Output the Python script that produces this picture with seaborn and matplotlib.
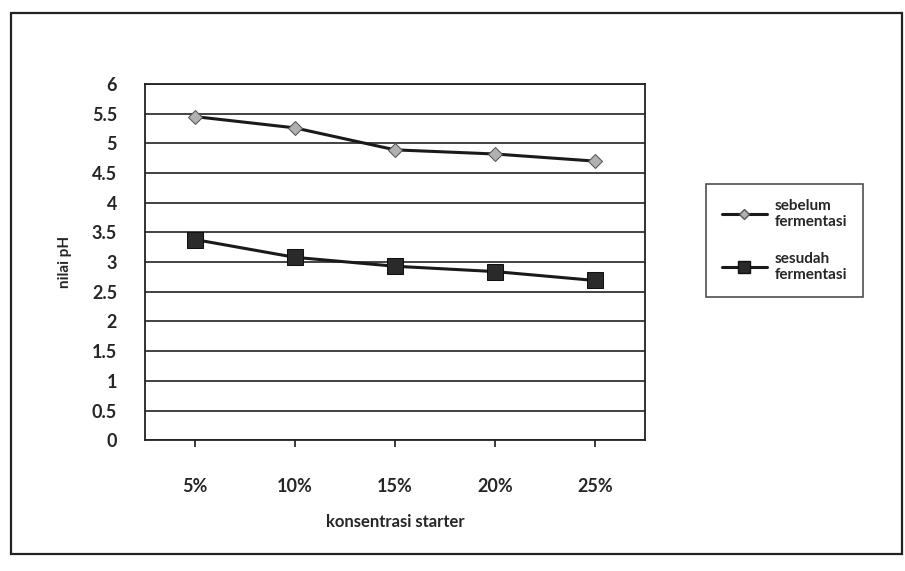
import matplotlib
matplotlib.use("Agg")
import matplotlib.pyplot as plt
import pandas as pd
import seaborn as sns
from matplotlib.lines import Line2D
from matplotlib.patches import Rectangle

sns.set_theme(style="white")
plt.rcParams["font.family"] = ["Lato", "DejaVu Sans"]

categories = ["5%", "10%", "15%", "20%", "25%"]
sebelum = [5.45, 5.26, 4.89, 4.82, 4.70]
sesudah = [3.38, 3.08, 2.93, 2.84, 2.69]
series_names = ["sebelum\nfermentasi", "sesudah\nfermentasi"]
y_ticks = [0, 0.5, 1, 1.5, 2, 2.5, 3, 3.5, 4, 4.5, 5, 5.5, 6]
y_tick_labels = ["0", "0.5", "1", "1.5", "2", "2.5", "3", "3.5", "4", "4.5", "5", "5.5", "6"]

df = pd.DataFrame({
    "konsentrasi": categories * 2,
    "pH": sebelum + sesudah,
    "seri": [series_names[0]] * len(categories) + [series_names[1]] * len(categories),
})

fig = plt.figure(figsize=(9.05, 5.71), dpi=100)
ax = fig.add_axes([0.160, 0.229, 0.553, 0.624])

# outer frame around the whole chart
fig.patches.append(Rectangle((0.012, 0.03), 0.985, 0.948, transform=fig.transFigure,
                             fill=False, edgecolor="#222222", linewidth=1.6))

sns.lineplot(data=df, x="konsentrasi", y="pH", hue="seri", style="seri",
             markers={series_names[0]: "D", series_names[1]: "s"},
             dashes=False, palette=["#1a1a1a", "#1a1a1a"], linewidth=2.2, ax=ax,
             legend=False, sort=False)

# marker colours
lines = ax.get_lines()
lines[0].set_markerfacecolor("#b0b0b0")
lines[0].set_markeredgecolor("#555555")
lines[0].set_markersize(7)
lines[1].set_markerfacecolor("#2a2a2a")
lines[1].set_markeredgecolor("#111111")
lines[1].set_markersize(11)

ax.set_xlim(-0.5, len(categories) - 0.5)
ax.set_ylim(0, 6)
ax.set_yticks(y_ticks)
ax.set_yticklabels(y_tick_labels, fontweight="bold", fontsize=13)
ax.set_xticks(range(len(categories)))
ax.set_xticklabels(categories, fontweight="bold", fontsize=13)
ax.tick_params(axis="x", bottom=True, length=5, color="#222222", pad=22)
ax.tick_params(axis="y", left=False, pad=14)
ax.yaxis.grid(True, color="#222222", linewidth=1.2)
ax.set_axisbelow(True)
for s in ax.spines.values():
    s.set_color("#222222")
    s.set_linewidth(1.3)

ax.set_xlabel("konsentrasi starter", fontweight="bold", fontsize=12, labelpad=14)
ax.set_ylabel("nilai pH", fontweight="bold", fontsize=11, labelpad=14)

# legend
handles = [
    Line2D([], [], color="#1a1a1a", linewidth=2.2, marker="D", markersize=5,
           markerfacecolor="#b0b0b0", markeredgecolor="#555555"),
    Line2D([], [], color="#1a1a1a", linewidth=2.2, marker="s", markersize=9,
           markerfacecolor="#2a2a2a", markeredgecolor="#111111"),
]
leg = fig.legend(handles, series_names, loc="upper left", bbox_to_anchor=(0.772, 0.692),
                 frameon=True, fancybox=False, edgecolor="#222222",
                 handlelength=3.0, handletextpad=0.5, labelspacing=1.5, borderpad=1.0,
                 prop={"weight": "bold", "size": 11})
leg.get_frame().set_linewidth(1.2)

fig.savefig("out.png", dpi=100)
